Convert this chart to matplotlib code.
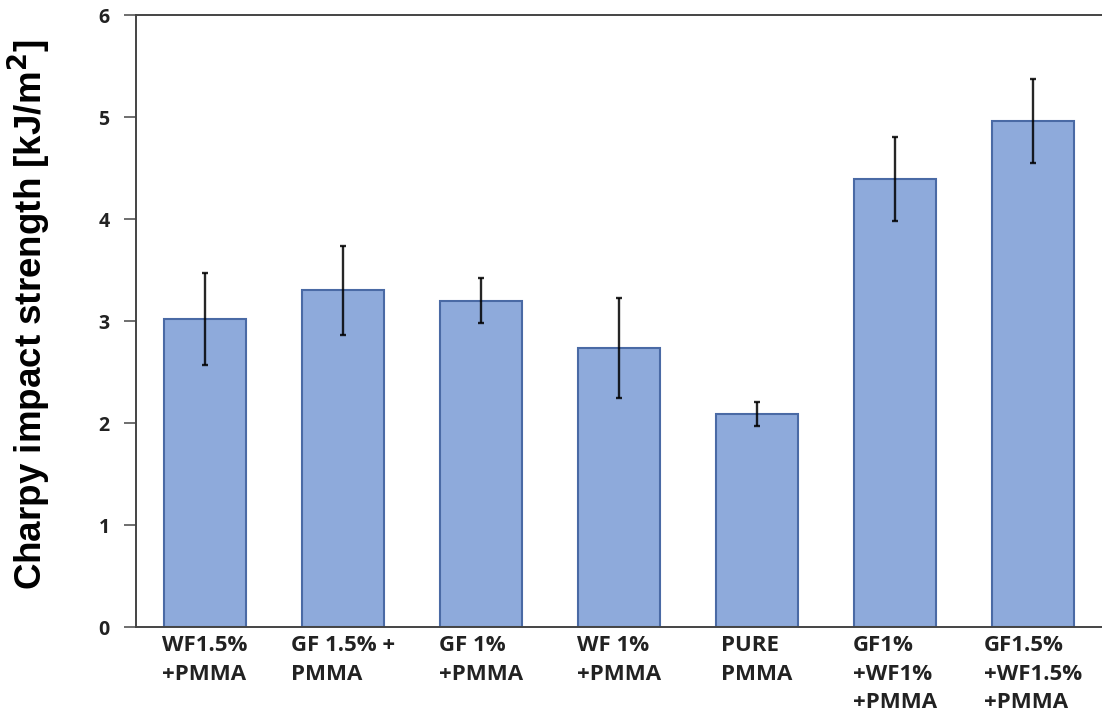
import matplotlib
matplotlib.use('Agg')
import matplotlib.pyplot as plt
import numpy as np

samples = ['WF1.5%\n+PMMA', 'GF 1.5% +\nPMMA', 'GF 1%\n+PMMA', 'WF 1%\n+PMMA',
           'PURE\nPMMA', 'GF1%\n+WF1%\n+PMMA', 'GF1.5%\n+WF1.5%\n+PMMA']
strength = [3.02, 3.30, 3.20, 2.74, 2.09, 4.39, 4.96]
std_dev = [0.45, 0.44, 0.22, 0.49, 0.12, 0.41, 0.41]
y_ticks = [0, 1, 2, 3, 4, 5, 6]

fig = plt.figure(figsize=(11.02, 7.15), dpi=100)
ax = fig.add_axes([0.1234, 0.123, 0.8766, 0.856])

x = np.arange(len(samples))
ax.bar(x, strength, width=0.6, color='#8eaadb', edgecolor='#4a6aa5', linewidth=1.5,
       yerr=std_dev, error_kw=dict(ecolor='black', alpha=0.85, elinewidth=1.7,
                                    capsize=2.5, capthick=1.7))

ax.set_xlim(-0.5, 6.5)
ax.set_ylim(0, 6)
ax.set_yticks(y_ticks)
ax.set_yticklabels([str(t) for t in y_ticks], fontfamily='Open Sans',
                   fontweight='bold', fontsize=14, color='#222222')
ax.set_xticks(x)
ax.set_xticklabels(samples, fontfamily='Open Sans', fontweight='bold', fontsize=16,
                   color='#222222', multialignment='left', linespacing=1.45)
ax.tick_params(axis='y', direction='out', length=9, width=1.2, color='#555555', pad=10)
ax.tick_params(axis='x', length=0, pad=6)

ax.spines['right'].set_visible(False)
for s in ['left', 'bottom', 'top']:
    ax.spines[s].set_color('#444444')
    ax.spines[s].set_linewidth(1.4)

ax.set_ylabel('Charpy impact strength [kJ/m$^\\mathbf{2}$]', fontfamily='Liberation Sans',
              fontweight='bold', fontsize=26.5)
ax.yaxis.set_label_coords(-0.086, 0.51)

fig.savefig('out.png', dpi=100)
